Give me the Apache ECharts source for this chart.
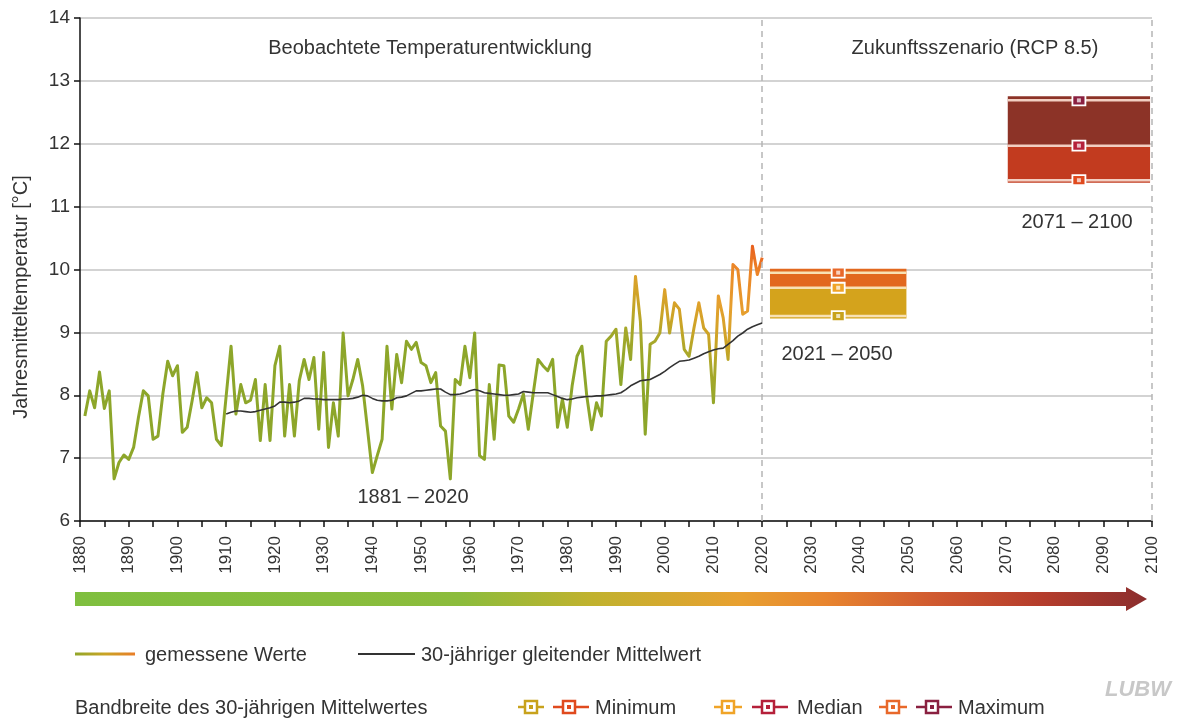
<!DOCTYPE html>
<html><head><meta charset="utf-8">
<script src="https://cdn.jsdelivr.net/npm/echarts@6/dist/echarts.min.js"></script>
<style>html,body{margin:0;padding:0;background:#fff}#c{width:1181px;height:721px}</style>
</head><body><div id="c"></div>
<script>
// ---------- DATA ----------
const firstYear = 1881;
const observed = [
  7.67, 8.07, 7.80, 8.37, 7.79, 8.07, 6.67, 6.93, 7.05, 6.98,   // 1881-1890
  7.17, 7.65, 8.07, 7.99, 7.30, 7.35, 8.02, 8.54, 8.31, 8.47,   // 1891-1900
  7.41, 7.49, 7.91, 8.36, 7.80, 7.96, 7.88, 7.30, 7.20, 7.99,   // 1901-1910
  8.78, 7.70, 8.17, 7.88, 7.92, 8.25, 7.28, 8.17, 7.28, 8.47,   // 1911-1920
  8.78, 7.35, 8.17, 7.35, 8.23, 8.57, 8.25, 8.60, 7.46, 8.68,   // 1921-1930
  7.17, 7.88, 7.35, 8.99, 7.99, 8.25, 8.57, 8.15, 7.46, 6.77,   // 1931-1940
  7.04, 7.30, 8.78, 7.78, 8.65, 8.20, 8.86, 8.73, 8.84, 8.52,   // 1941-1950
  8.47, 8.20, 8.36, 7.51, 7.43, 6.67, 8.25, 8.17, 8.78, 8.28,   // 1951-1960
  8.99, 7.04, 6.98, 8.17, 7.30, 8.48, 8.47, 7.67, 7.57, 7.78,   // 1961-1970
  8.02, 7.46, 8.02, 8.57, 8.47, 8.39, 8.57, 7.49, 7.94, 7.49,   // 1971-1980
  8.15, 8.62, 8.78, 7.99, 7.45, 7.88, 7.67, 8.86, 8.94, 9.05,   // 1981-1990
  8.17, 9.07, 8.57, 9.89, 9.18, 7.38, 8.81, 8.86, 8.99, 9.68,   // 1991-2000
  8.99, 9.47, 9.37, 8.73, 8.62, 9.07, 9.47, 9.07, 8.97, 7.88,   // 2001-2010
  9.58, 9.23, 8.57, 10.08, 10.00, 9.29, 9.34, 10.37, 9.92, 10.19 // 2011-2020
];
const meanStartYear = 1910;
const mean30 = [
  7.70, 7.73, 7.75, 7.75, 7.74, 7.73, 7.74, 7.76, 7.78, 7.80,   // 1910-1919
  7.83, 7.89, 7.89, 7.88, 7.89, 7.91, 7.95, 7.95, 7.94, 7.94,   // 1920-1929
  7.93, 7.93, 7.93, 7.93, 7.94, 7.94, 7.95, 7.97, 8.00, 7.99,   // 1930-1939
  7.95, 7.92, 7.91, 7.91, 7.92, 7.96, 7.97, 7.99, 8.03, 8.07,   // 1940-1949
  8.07, 8.08, 8.09, 8.10, 8.10, 8.05, 8.01, 8.01, 8.02, 8.04,   // 1950-1959
  8.07, 8.09, 8.07, 8.04, 8.03, 8.02, 8.01, 8.00, 8.00, 8.01,   // 1960-1969
  8.02, 8.06, 8.05, 8.04, 8.04, 8.04, 8.04, 8.01, 7.98, 7.95,   // 1970-1979
  7.93, 7.94, 7.96, 7.97, 7.98, 7.98, 7.99, 7.99, 8.00, 8.01,   // 1980-1989
  8.02, 8.04, 8.09, 8.15, 8.19, 8.23, 8.24, 8.25, 8.29, 8.33,   // 1990-1999
  8.38, 8.44, 8.49, 8.54, 8.55, 8.56, 8.59, 8.62, 8.66, 8.69,   // 2000-2009
  8.72, 8.74, 8.75, 8.81, 8.87, 8.94, 8.99, 9.05, 9.09, 9.12,   // 2010-2019
  9.15                                                          // 2020
];
const periodLabels = ['2021 – 2050', '2071 – 2100'];
const periodStart  = [2021.6, 2070.4];
const periodEnd    = [2049.6, 2099.6];
const rangeMin     = [9.26, 11.42];
const rangeMedian  = [9.71, 11.97];
const rangeMax     = [9.95, 12.69];
const dividerYears = [2020, 2100];
const yMin = 6, yMax = 14, xMin = 1880, xMax = 2100;

// ---------- STYLE ----------
const FONT = '"Liberation Sans", Arial, sans-serif';
const TXT = '#333333';
const upperFill = ['#e2681e', '#8c3327'];
const lowerFill = ['#d4a31c', '#c23b1f'];
const bandLine  = ['#f8e1b4', '#f2cfc2'];
const markerCol = [['#c8a21c', '#f0a428', '#e8682a'], ['#e04a1e', '#b5203a', '#8a2040']]; // min, median, max

const obsData = observed.map((v, i) => [firstYear + i, v]);
const meanData = mean30.map((v, i) => [meanStartYear + i, v]);
const boxData = periodLabels.map((p, i) => [periodStart[i], periodEnd[i], rangeMin[i], rangeMedian[i], rangeMax[i]]);

const obsGradient = new echarts.graphic.LinearGradient(560, 340, 638, 184, [
  {offset: 0, color: '#8da62a'},
  {offset: 0.25, color: '#a9a82a'},
  {offset: 0.4, color: '#cca426'},
  {offset: 0.6, color: '#e6a02e'},
  {offset: 0.85, color: '#ec8428'},
  {offset: 1, color: '#e85a1c'}
], true);

const chart = echarts.init(document.getElementById('c'), null, {renderer: 'canvas'});

function legendIcon(cx, cy, color, tailL, tailR) {
  return [
    {type: 'line', shape: {x1: cx - tailL, y1: cy, x2: cx + tailR, y2: cy}, style: {stroke: color, lineWidth: 2.5}},
    {type: 'rect', shape: {x: cx - 6, y: cy - 6, width: 12, height: 12}, style: {fill: '#fff', stroke: color, lineWidth: 2.5}},
    {type: 'rect', shape: {x: cx - 2, y: cy - 2, width: 4, height: 4}, style: {fill: color}}
  ];
}

const F20 = '20px ' + FONT;
const graphics = [
  {type: 'text', x: 430, y: 48, style: {text: 'Beobachtete Temperaturentwicklung', font: F20, fill: TXT, align: 'center', verticalAlign: 'middle'}},
  {type: 'text', x: 975, y: 48, style: {text: 'Zukunftsszenario (RCP 8.5)', font: F20, fill: TXT, align: 'center', verticalAlign: 'middle'}},
  {type: 'text', x: 413, y: 497, style: {text: '1881 – 2020', font: F20, fill: TXT, align: 'center', verticalAlign: 'middle'}},
  {type: 'text', x: 837, y: 354, style: {text: periodLabels[0], font: F20, fill: TXT, align: 'center', verticalAlign: 'middle'}},
  {type: 'text', x: 1077, y: 222, style: {text: periodLabels[1], font: F20, fill: TXT, align: 'center', verticalAlign: 'middle'}},
  {type: 'text', x: 21, y: 297, rotation: Math.PI / 2, style: {text: 'Jahresmitteltemperatur [°C]', font: F20, fill: TXT, align: 'center', verticalAlign: 'middle'}},
  // gradient arrow
  {type: 'polygon', shape: {points: [[75, 592], [1126, 592], [1126, 587], [1147, 599], [1126, 611], [1126, 606], [75, 606]]},
   style: {fill: new echarts.graphic.LinearGradient(0, 0, 1, 0, [
     {offset: 0, color: '#7fbf3f'}, {offset: 0.36, color: '#8cbc3c'}, {offset: 0.48, color: '#c0b22e'},
     {offset: 0.62, color: '#e8a030'}, {offset: 0.70, color: '#e8852f'}, {offset: 0.80, color: '#d05a30'},
     {offset: 0.90, color: '#b53d2c'}, {offset: 1, color: '#8b2e2e'}])}},
  // legend row 1
  {type: 'line', shape: {x1: 75, y1: 654, x2: 135, y2: 654}, style: {lineWidth: 3, stroke: new echarts.graphic.LinearGradient(0, 0, 1, 0, [{offset: 0, color: '#8da62a'}, {offset: 0.5, color: '#c9a425'}, {offset: 1, color: '#ec7a28'}])}},
  {type: 'text', x: 145, y: 655, style: {text: 'gemessene Werte', font: F20, fill: TXT, verticalAlign: 'middle'}},
  {type: 'line', shape: {x1: 358, y1: 654, x2: 415, y2: 654}, style: {lineWidth: 2, stroke: '#333'}},
  {type: 'text', x: 421, y: 655, style: {text: '30-jähriger gleitender Mittelwert', font: F20, fill: TXT, verticalAlign: 'middle'}},
  // legend row 2
  {type: 'text', x: 75, y: 708, style: {text: 'Bandbreite des 30-jährigen Mittelwertes', font: F20, fill: TXT, verticalAlign: 'middle'}},
  ...legendIcon(531, 707, markerCol[0][0], 13, 13),
  ...legendIcon(569, 707, markerCol[1][0], 16, 20),
  {type: 'text', x: 595, y: 708, style: {text: 'Minimum', font: F20, fill: TXT, verticalAlign: 'middle'}},
  ...legendIcon(728, 707, markerCol[0][1], 14, 14),
  ...legendIcon(768, 707, markerCol[1][1], 16, 20),
  {type: 'text', x: 797, y: 708, style: {text: 'Median', font: F20, fill: TXT, verticalAlign: 'middle'}},
  ...legendIcon(893, 707, markerCol[0][2], 14, 14),
  ...legendIcon(932, 707, markerCol[1][2], 16, 20),
  {type: 'text', x: 958, y: 708, style: {text: 'Maximum', font: F20, fill: TXT, verticalAlign: 'middle'}},
  {type: 'text', x: 1138, y: 690, style: {text: 'LUBW', font: 'italic bold 22px ' + FONT, fill: '#c8c8c8', align: 'center', verticalAlign: 'middle'}}
];

chart.setOption({
  animation: false,
  backgroundColor: '#fff',
  grid: {left: 80, right: 29, top: 18, bottom: 200, containLabel: false},
  xAxis: {
    type: 'value', min: xMin, max: xMax, interval: 5,
    axisLine: {show: true, onZero: false, lineStyle: {color: '#111', width: 1.5}},
    axisTick: {show: true, length: 6, lineStyle: {color: '#111', width: 1.5}},
    axisLabel: {rotate: 90, margin: 15, color: TXT, fontSize: 17, fontFamily: FONT,
      formatter: v => (v % 10 === 0 ? String(v) : '')},
    splitLine: {show: false}
  },
  yAxis: {
    type: 'value', min: yMin, max: yMax, interval: 1,
    axisLine: {show: true, lineStyle: {color: '#111', width: 1.5}},
    axisTick: {show: true, length: 6, lineStyle: {color: '#111', width: 1.5}},
    axisLabel: {margin: 10, color: TXT, fontSize: 19, fontFamily: FONT},
    splitLine: {show: true, lineStyle: {color: '#c4c4c4', width: 1.5}}
  },
  series: [
    {
      type: 'custom', name: 'Bandbreite', z: 3,
      data: boxData,
      encode: {x: [0, 1], y: [2, 3, 4]},
      renderItem: function (params, api) {
        const i = params.dataIndex;
        const pTop = api.coord([api.value(0), api.value(4)]);
        const pBot = api.coord([api.value(1), api.value(2)]);
        const med = api.coord([api.value(0), api.value(3)])[1];
        const x0 = pTop[0], x1 = pBot[0], yTop = pTop[1], yBot = pBot[1];
        const xc = (x0 + x1) / 2;
        const ch = [
          {type: 'rect', shape: {x: x0, y: yTop - 4, width: x1 - x0, height: med - yTop + 4}, style: {fill: upperFill[i]}},
          {type: 'rect', shape: {x: x0, y: med, width: x1 - x0, height: yBot + 2.5 - med}, style: {fill: lowerFill[i]}}
        ];
        [yBot, med, yTop].forEach((y, k) => {
          ch.push({type: 'line', shape: {x1: x0, y1: y, x2: x1, y2: y}, style: {stroke: bandLine[i], lineWidth: 2.5}});
          ch.push({type: 'rect', shape: {x: xc - 6.5, y: y - 5, width: 13, height: 10}, style: {fill: markerCol[i][k], stroke: '#fff', lineWidth: 1.8}});
          ch.push({type: 'rect', shape: {x: xc - 2, y: y - 2, width: 4, height: 4}, style: {fill: 'rgba(255,255,255,0.7)'}});
        });
        return {type: 'group', children: ch};
      }
    },
    {
      type: 'line', name: 'gemessene Werte', data: obsData, showSymbol: false, symbol: 'none', z: 4,
      lineStyle: {width: 3, color: obsGradient, join: 'round'}
    },
    {
      type: 'line', name: '30-jähriger gleitender Mittelwert', data: meanData, showSymbol: false, symbol: 'none', z: 5,
      lineStyle: {width: 1.6, color: '#333'},
      markLine: {
        silent: true, symbol: 'none', label: {show: false},
        lineStyle: {type: [6, 5], color: '#b5b5b5', width: 1.5},
        data: dividerYears.map(y => ({xAxis: y}))
      }
    }
  ],
  graphic: graphics
});
</script>
</body></html>
